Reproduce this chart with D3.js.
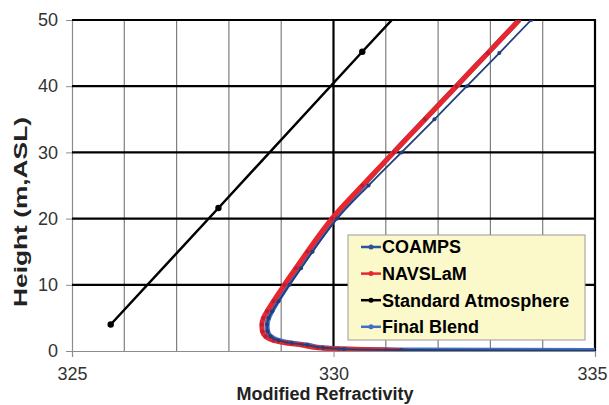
<!DOCTYPE html>
<html>
<head>
<meta charset="utf-8">
<script src="https://cdn.jsdelivr.net/npm/d3@7"></script>
<style>
  body { margin: 0; background: #fff; }
  text { font-family: "Liberation Sans", Arial, sans-serif; }
</style>
</head>
<body>
<svg id="chart"></svg>
<script>
var width = 609,
    height = 405;

// heights (m) shared by the model profiles
var heights = [0, 0.15, 0.3, 0.5, 0.9, 1.2, 1.6, 2.2, 3, 4, 5, 6, 7.5, 10, 12.5, 15, 20, 25, 30, 35, 40, 45, 50];
var coamps = [338, 331.3, 330.2, 329.8, 329.5, 329.2, 328.95, 328.8, 328.74, 328.73, 328.76, 328.83, 328.95, 329.16, 329.38, 329.6, 330.07, 330.67, 331.3, 331.93, 332.55, 333.17, 333.78];
var navslam = [331.4, 331.0, 330.1, 329.7, 329.4, 329.1, 328.85, 328.7, 328.64, 328.63, 328.66, 328.73, 328.85, 329.06, 329.28, 329.5, 329.97, 330.55, 331.15, 331.75, 332.35, 332.95, 333.55];
var finalBlend = [338, 331.3, 330.2, 329.8, 329.5, 329.2, 328.95, 328.8, 328.74, 328.73, 328.76, 328.82, 328.93, 329.13, 329.34, 329.56, 330.02, 330.57, 331.15, 331.75, 332.35, 332.95, 333.55];
var stdHeights = [4, 21.6, 45.2, 52];
var stdAtmos = [325.74, 327.8, 330.55, 331.35];

var xTicks = [325, 330, 335];
var yTicks = [0, 10, 20, 30, 40, 50];
var xMinor = [326, 327, 328, 329, 331, 332, 333, 334];

var legendNames = ['COAMPS', 'NAVSLaM', 'Standard Atmosphere', 'Final Blend'];
var legendColors = ['#2f5597', '#e8262b', '#000000', '#3f6fc6'];

var svg = d3.select('#chart')
    .attr('width', width)
    .attr('height', height);

var x = d3.scaleLinear().domain([325, 335]).range([72, 595]);
var y = d3.scaleLinear().domain([0, 50]).range([351, 20]);

// clip for the lines
svg.append('clipPath').attr('id', 'plotclip')
  .append('rect')
  .attr('x', x(325)).attr('y', y(50))
  .attr('width', x(335) - x(325)).attr('height', y(0) - y(50));

// thin vertical grid
svg.append('g').selectAll('line')
  .data(xMinor)
  .enter().append('line')
  .attr('x1', function(d) { return x(d); })
  .attr('x2', function(d) { return x(d); })
  .attr('y1', y(0)).attr('y2', y(50))
  .attr('stroke', '#7f7f7f')
  .attr('stroke-width', 1.2);

// left and bottom axis lines with ticks
var xAxis = d3.axisBottom(x).tickValues(xTicks).tickSize(6).tickFormat(d3.format('d'));
var gx = svg.append('g').attr('transform', 'translate(0,' + y(0) + ')').call(xAxis);
gx.select('.domain').attr('stroke', '#8c8c8c').attr('stroke-width', 1.2);
gx.selectAll('.tick line').attr('stroke', '#8c8c8c');
gx.selectAll('.tick text')
  .attr('font-size', 18)
  .attr('fill', '#333')
  .attr('y', 16)
  .attr('font-family', '"Liberation Sans", Arial, sans-serif');
// last label sits against the right edge
gx.selectAll('.tick text').filter(function(d) { return d === 335; })
  .attr('text-anchor', 'end')
  .attr('x', 12);

var yAxis = d3.axisLeft(y).tickValues(yTicks).tickSize(6).tickFormat(d3.format('d'));
var gy = svg.append('g').attr('transform', 'translate(' + x(325) + ',0)').call(yAxis);
gy.select('.domain').attr('stroke', '#8c8c8c').attr('stroke-width', 1.2);
gy.selectAll('.tick line').attr('stroke', '#8c8c8c');
gy.selectAll('.tick text')
  .attr('font-size', 18)
  .attr('fill', '#333')
  .attr('x', -14)
  .attr('font-family', '"Liberation Sans", Arial, sans-serif');

// bold horizontal grid
svg.append('g').selectAll('line')
  .data(yTicks.slice(1))
  .enter().append('line')
  .attr('x1', x(325)).attr('x2', x(335))
  .attr('y1', function(d) { return y(d); })
  .attr('y2', function(d) { return y(d); })
  .attr('stroke', '#000')
  .attr('stroke-width', 2.2);

// bold vertical lines at 330 and 335
svg.append('g').selectAll('line')
  .data([330, 335])
  .enter().append('line')
  .attr('x1', function(d) { return x(d); })
  .attr('x2', function(d) { return x(d); })
  .attr('y1', y(0)).attr('y2', y(50) - 1)
  .attr('stroke', '#000')
  .attr('stroke-width', 2.2);

var line = d3.line()
  .x(function(d) { return x(d[0]); })
  .y(function(d) { return y(d[1]); })
  .curve(d3.curveMonotoneY);

var straight = d3.line()
  .x(function(d) { return x(d[0]); })
  .y(function(d) { return y(d[1]); });

function pairs(vals, hs) {
  return vals.map(function(v, i) { return [v, hs[i]]; });
}

var series = [
  { vals: pairs(finalBlend, heights), color: '#3f6fc6', w: 5, mark: '#3a5fae', r: 2 },
  { vals: pairs(navslam, heights), color: '#e8262b', w: 5, mark: '#b8203a', r: 2 },
  { vals: pairs(coamps, heights), color: '#223f7a', w: 1.8, mark: '#223f7a', r: 2 },
  { vals: pairs(stdAtmos, stdHeights), color: '#000', w: 2.5, mark: '#000', r: 3.2, straight: true }
];

var plot = svg.append('g').attr('clip-path', 'url(#plotclip)');

series.forEach(function(s) {
  plot.append('path')
    .attr('d', s.straight ? straight(s.vals) : line(s.vals))
    .attr('fill', 'none')
    .attr('stroke', s.color)
    .attr('stroke-width', s.w)
    .attr('stroke-linejoin', 'round');
  plot.append('g').selectAll('circle')
    .data(s.vals)
    .enter().append('circle')
    .attr('cx', function(d) { return x(d[0]); })
    .attr('cy', function(d) { return y(d[1]); })
    .attr('r', s.r)
    .attr('fill', s.mark);
});

// legend
var legend = svg.append('g');
legend.append('rect')
  .attr('x', 348).attr('y', 235)
  .attr('width', 237).attr('height', 105)
  .attr('fill', '#fbf8c9')
  .attr('stroke', '#9a9a9a')
  .attr('stroke-width', 1);

legendNames.forEach(function(name, i) {
  var ly = 247 + i * 26.6;
  legend.append('line')
    .attr('x1', 361).attr('x2', 381)
    .attr('y1', ly).attr('y2', ly)
    .attr('stroke', legendColors[i])
    .attr('stroke-width', 2.5);
  legend.append('circle')
    .attr('cx', 371).attr('cy', ly).attr('r', 2.5)
    .attr('fill', legendColors[i]);
  legend.append('text')
    .text(name)
    .attr('x', 382).attr('y', ly)
    .attr('dy', '0.35em')
    .attr('font-size', 18)
    .attr('font-weight', 'bold')
    .attr('fill', '#000');
});

// axis titles
svg.append('text')
  .text('Modified Refractivity')
  .attr('x', 325).attr('y', 400)
  .attr('font-size', 18)
  .attr('font-weight', 'bold')
  .attr('fill', '#222')
  .style('text-anchor', 'middle');

svg.append('text')
  .text('Height (m,ASL)')
  .attr('transform', 'translate(27,212) rotate(-90)')
  .attr('font-size', 19)
  .attr('font-weight', 'bold')
  .attr('fill', '#222')
  .attr('textLength', 190)
  .attr('lengthAdjust', 'spacingAndGlyphs')
  .style('text-anchor', 'middle');
</script>
</body>
</html>
